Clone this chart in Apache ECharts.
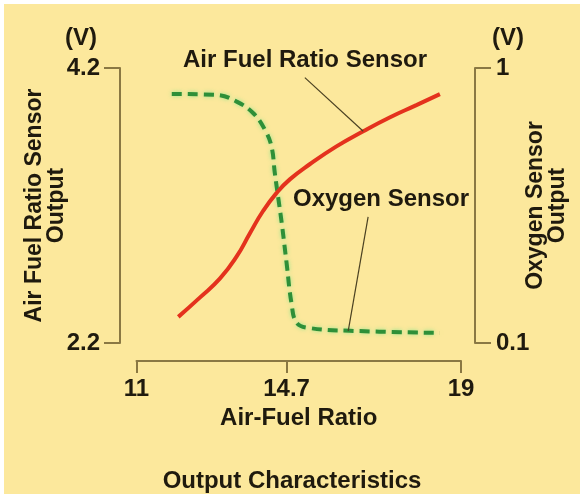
<!DOCTYPE html>
<html>
<head>
<meta charset="utf-8">
<script src="https://cdn.jsdelivr.net/npm/echarts@6/dist/echarts.min.js"></script>
<style>
  html, body { margin: 0; padding: 0; background: #ffffff; width: 584px; height: 499px; overflow: hidden; }
  #chart { position: absolute; left: 4px; top: 4px; width: 576px; height: 490px; background: #fce89c; }
</style>
</head>
<body>
<div id="chart"></div>
<script>
// ---- data ----
const afrTicks = [11, 14.7, 19];
const leftTicks = [2.2, 4.2];
const rightTicks = [0.1, 1];

// Air Fuel Ratio Sensor output (V, left axis) vs air-fuel ratio
const afSensorRatio = [12.03, 12.56, 13.06, 13.47, 13.80, 14.12, 14.45, 14.78, 15.27, 15.93, 16.59, 17.24, 17.90, 18.48];
const afSensorVolt  = [2.39, 2.53, 2.67, 2.83, 3.00, 3.16, 3.29, 3.39, 3.50, 3.63, 3.74, 3.84, 3.93, 4.01];

// Oxygen Sensor output (V, right axis) vs air-fuel ratio
const o2SensorRatio = [11.87, 12.98, 13.47, 13.88, 14.17, 14.33, 14.41, 14.49, 14.58, 14.70, 14.82, 14.95, 15.27, 16.26, 18.48];
const o2SensorVolt  = [0.915, 0.912, 0.890, 0.852, 0.797, 0.742, 0.656, 0.579, 0.493, 0.362, 0.231, 0.166, 0.149, 0.140, 0.133];

// leader lines (data coordinates)
const afLeader = [[15.15, 4.13], [16.59, 3.74]];
const o2Leader = [[16.71, 0.513], [16.22, 0.140]];

const texts = {
  unit: '(V)',
  afLabel: 'Air Fuel Ratio Sensor',
  o2Label: 'Oxygen Sensor',
  xName: 'Air-Fuel Ratio',
  leftName: 'Air Fuel Ratio Sensor\nOutput',
  rightName: 'Oxygen Sensor\nOutput',
  title: 'Output Characteristics'
};

// ---- styling ----
const FONT = '"Liberation Sans", Arial, sans-serif';
const TXT = '#1f1a0e';
const AXC = '#8a7843';
const lbl = { fontFamily: FONT, fontWeight: 'bold', fontSize: 24, color: TXT };

const pairs = (xs, ys) => xs.map((x, i) => [x, ys[i]]);

const chart = echarts.init(document.getElementById('chart'), null, { renderer: 'canvas' });
chart.setOption({
  animation: false,
  backgroundColor: 'transparent',
  title: {
    text: texts.title,
    left: 'center',
    top: 460,
    textStyle: Object.assign({}, lbl)
  },
  grid: [
    { left: 132.5, right: 119, top: 64, bottom: 151, containLabel: false, outerBoundsMode: 'none' },
    { left: 116, right: 105, top: 64, bottom: 151, containLabel: false, outerBoundsMode: 'none' }
  ],
  xAxis: [
    {
      type: 'value', gridIndex: 0, min: 11, max: 19, position: 'bottom', offset: 18,
      axisLine: { show: true, lineStyle: { color: AXC, width: 2 } },
      axisTick: { show: true, length: 12, lineStyle: { color: AXC, width: 2 }, customValues: afrTicks },
      axisLabel: Object.assign({ show: true, margin: 16, customValues: afrTicks, formatter: v => String(v) }, lbl),
      splitLine: { show: false },
      name: texts.xName, nameLocation: 'middle', nameGap: 45, nameMoveOverlap: false,
      nameTextStyle: Object.assign({}, lbl)
    },
    { type: 'value', gridIndex: 1, min: 11, max: 19, show: false }
  ],
  yAxis: [
    { type: 'value', gridIndex: 0, min: 2.2, max: 4.2, position: 'left', show: false },
    { type: 'value', gridIndex: 0, min: 0.1, max: 1, position: 'right', show: false },
    {
      type: 'value', gridIndex: 1, min: 2.2, max: 4.2, position: 'left',
      axisLine: { show: true, lineStyle: { color: AXC, width: 2 } },
      axisTick: { show: true, length: 16, lineStyle: { color: AXC, width: 2 }, customValues: leftTicks },
      axisLabel: Object.assign({ show: true, margin: 20, customValues: leftTicks, formatter: v => String(v) }, lbl),
      splitLine: { show: false },
      name: texts.leftName, nameLocation: 'middle', nameRotate: 90, nameGap: 52, nameMoveOverlap: false,
      nameTextStyle: Object.assign({}, lbl, { fontSize: 23, lineHeight: 22 })
    },
    {
      type: 'value', gridIndex: 1, min: 0.1, max: 1, position: 'right',
      axisLine: { show: true, lineStyle: { color: AXC, width: 2 } },
      axisTick: { show: true, length: 16, lineStyle: { color: AXC, width: 2 }, customValues: rightTicks },
      axisLabel: Object.assign({ show: true, margin: 21, customValues: rightTicks, formatter: v => String(v) }, lbl),
      splitLine: { show: false },
      name: texts.rightName, nameLocation: 'middle', nameRotate: 90, nameGap: 50, nameMoveOverlap: false,
      nameTextStyle: Object.assign({}, lbl, { fontSize: 23, lineHeight: 22 })
    }
  ],
  graphic: [
    { type: 'text', left: 79 - 18, top: 22, style: { text: texts.unit, font: 'bold 24px ' + FONT, fill: TXT } },
    { type: 'text', left: 506 - 18, top: 22, style: { text: texts.unit, font: 'bold 24px ' + FONT, fill: TXT } },
    { type: 'text', left: 179, top: 44, style: { text: texts.afLabel, font: 'bold 24px ' + FONT, fill: TXT } },
    { type: 'text', left: 289, top: 183, style: { text: texts.o2Label, font: 'bold 24px ' + FONT, fill: TXT } }
  ],
  series: [
    {
      name: 'Air Fuel Ratio Sensor', type: 'line', xAxisIndex: 0, yAxisIndex: 0,
      data: pairs(afSensorRatio, afSensorVolt), smooth: 0.5, symbol: 'none',
      lineStyle: { color: '#e4321d', width: 4 },
      markLine: {
        silent: true, symbol: 'none', animation: false, label: { show: false },
        lineStyle: { color: '#4a4122', width: 1.2, type: 'solid' },
        data: [[{ coord: afLeader[0] }, { coord: afLeader[1] }]]
      },
      z: 3
    },
    {
      name: 'Oxygen Sensor', type: 'line', xAxisIndex: 0, yAxisIndex: 1,
      data: pairs(o2SensorRatio, o2SensorVolt), smooth: 0.4, symbol: 'none',
      lineStyle: { color: '#2e8f38', width: 4, type: [10, 6], shadowColor: 'rgba(140,230,140,0.9)', shadowBlur: 4 },
      markLine: {
        silent: true, symbol: 'none', animation: false, label: { show: false },
        lineStyle: { color: '#4a4122', width: 1.2, type: 'solid' },
        data: [[{ coord: o2Leader[0] }, { coord: o2Leader[1] }]]
      },
      z: 2
    }
  ]
});
</script>
</body>
</html>
